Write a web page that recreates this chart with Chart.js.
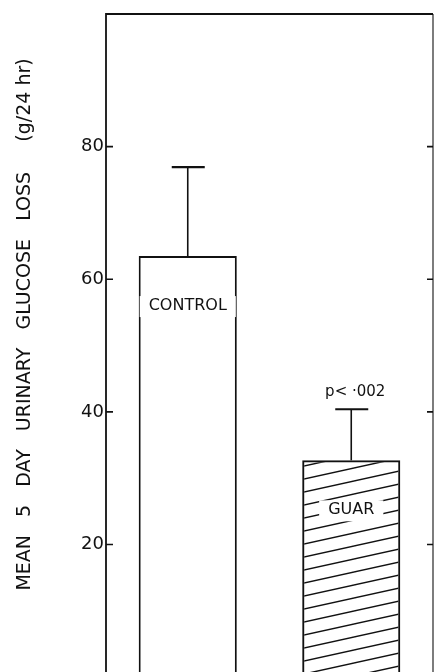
<!DOCTYPE html>
<html>
<head>
<meta charset="utf-8">
<script src="https://cdn.jsdelivr.net/npm/chart.js@4.4.1/dist/chart.umd.min.js"></script>
<style>
html,body{margin:0;padding:0;background:#fff;overflow:hidden;}
canvas{display:block;}
</style>
</head>
<body>
<canvas id="glucose" width="434" height="690"></canvas>
<script>
const groups=["CONTROL","GUAR"];
const meanLoss=[63.5,32.7];
const errUpper=[76.9,40.4];
const yTicks=[20,40,60,80];
const pNote="p< ·002";
// leading spaces lift the title off the foot of the axis
const axisTitle="       MEAN   5   DAY   URINARY   GLUCOSE   LOSS     (g/24 hr)";

const ink="#111";
const font="'DejaVu Sans', sans-serif";

// rising diagonal hatch for the guar bar
function hatch(){
    const w=59,h=13;
    const c=document.createElement("canvas");
    c.width=w;
    c.height=h;
    const g=c.getContext("2d");
    g.strokeStyle=ink;
    g.lineWidth=1.4;
    [-h,0,h].forEach(d=>{
        g.beginPath();
        g.moveTo(0,h+d);
        g.lineTo(w,d);
        g.stroke();
    });
    return g.createPattern(c,"repeat");
}

// box round the plot with short inward ticks on both sides
const frame={
    id:"frame",
    afterDraw(chart){
        const {ctx,chartArea:a,scales}=chart;
        ctx.save();
        ctx.strokeStyle=ink;
        ctx.lineWidth=1.8;
        ctx.beginPath();
        ctx.moveTo(a.left,a.bottom);
        ctx.lineTo(a.left,a.top);
        ctx.lineTo(a.right,a.top);
        ctx.stroke();
        ctx.lineWidth=1.1;
        ctx.beginPath();
        ctx.moveTo(a.right,a.top);
        ctx.lineTo(a.right,a.bottom);
        ctx.stroke();
        ctx.lineWidth=1.6;
        yTicks.forEach(v=>{
            const y=scales.y.getPixelForValue(v);
            ctx.beginPath();
            ctx.moveTo(a.left,y);
            ctx.lineTo(a.left+7,y);
            ctx.moveTo(a.right,y);
            ctx.lineTo(a.right-6,y);
            ctx.stroke();
        });
        ctx.restore();
    }
};

// upper error bars, bar labels and the p value
const marks={
    id:"marks",
    afterDatasetsDraw(chart){
        const {ctx,scales}=chart;
        const bars=chart.getDatasetMeta(0).data;
        ctx.save();
        ctx.strokeStyle=ink;
        ctx.fillStyle=ink;
        bars.forEach((bar,i)=>{
            const top=scales.y.getPixelForValue(errUpper[i]);
            ctx.lineWidth=1.6;
            ctx.beginPath();
            ctx.moveTo(bar.x,bar.y);
            ctx.lineTo(bar.x,top);
            ctx.stroke();
            ctx.lineWidth=2.2;
            ctx.beginPath();
            ctx.moveTo(bar.x-16,top);
            ctx.lineTo(bar.x+17,top);
            ctx.stroke();

            ctx.font="16px "+font;
            ctx.textAlign="center";
            ctx.textBaseline="middle";
            const w=ctx.measureText(groups[i]).width;
            const ly=bar.y+50;
            ctx.fillStyle="#fff";
            ctx.fillRect(bar.x-w/2-9,ly-10,w+18,21);
            ctx.fillStyle=ink;
            ctx.fillText(groups[i],bar.x,ly);

            if(i===1){
                ctx.font="15px "+font;
                ctx.fillText(pNote,bar.x+4,top-17);
            }
        });
        ctx.restore();
    }
};

new Chart(document.getElementById("glucose"),{
    type:"bar",
    data:{
        labels:groups,
        datasets:[{
            data:meanLoss,
            backgroundColor:["#fff",hatch()],
            borderColor:ink,
            borderWidth:2,
            borderSkipped:false,
            barPercentage:0.6,
            categoryPercentage:1
        }]
    },
    options:{
        responsive:false,
        animation:false,
        layout:{
            padding:{top:14,right:1,bottom:12,left:0}
        },
        plugins:{
            legend:{display:false},
            tooltip:{enabled:false}
        },
        scales:{
            x:{
                display:false
            },
            y:{
                min:0,
                max:100,
                afterFit(s){
                    s.width=106;
                },
                grid:{display:false,drawTicks:false},
                border:{display:false},
                ticks:{
                    stepSize:20,
                    padding:2,
                    color:ink,
                    font:{family:font,size:18},
                    callback:v=>yTicks.includes(v)?v:""
                },
                title:{
                    display:true,
                    text:axisTitle,
                    color:ink,
                    font:{family:font,size:19},
                    padding:{top:14,bottom:0}
                }
            }
        }
    },
    plugins:[frame,marks]
});
</script>
</body>
</html>
